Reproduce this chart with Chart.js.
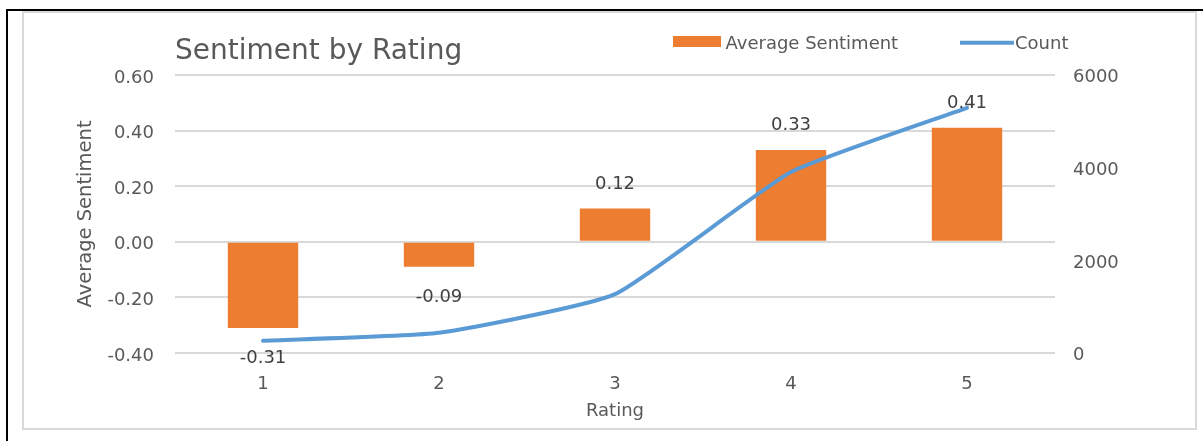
<!DOCTYPE html>
<html><head><meta charset="utf-8">
<script src="https://cdn.jsdelivr.net/npm/chart.js@4.4.1/dist/chart.umd.min.js"></script>
<style>html,body{margin:0;padding:0;background:#fff;overflow:hidden}#wrap{position:relative;width:1203px;height:441px}canvas{display:block}</style>
</head><body><div id="wrap"><canvas id="c" width="1203" height="441"></canvas></div>
<script>
// ---- data ----
const categories = ['1', '2', '3', '4', '5'];
const avgSentiment = [-0.31, -0.09, 0.12, 0.33, 0.41];
const counts = [265, 435, 1270, 3905, 5290];
const leftTicks = [-0.4, -0.2, 0, 0.2, 0.4, 0.6];
const rightTicks = [0, 2000, 4000, 6000];
const chartTitle = 'Sentiment by Rating';
const xTitle = 'Rating';
const yTitle = 'Average Sentiment';

// ---- style ----
const ORANGE = '#ED7D31';
const BLUE = '#5B9BD5';
const TXT = '#595959';
const GRID = '#D9D9D9';
const FONT = '"DejaVu Sans", sans-serif';

Chart.defaults.font.family = FONT;
Chart.defaults.color = TXT;

const framePlugin = {
  id: 'frame',
  beforeDraw(chart) {
    const ctx = chart.ctx;
    ctx.save();
    ctx.fillStyle = '#fff';
    ctx.fillRect(0, 0, chart.width, chart.height);
    ctx.strokeStyle = GRID;
    ctx.lineWidth = 2;
    ctx.strokeRect(23, 12, 1173, 417);
    ctx.fillStyle = '#000';
    ctx.fillRect(6, 9, chart.width - 6, 2);
    ctx.fillRect(6, 9, 2, chart.height - 9);
    ctx.restore();
  }
};

const barLabelPlugin = {
  id: 'barLabels',
  afterDatasetsDraw(chart) {
    const meta = chart.getDatasetMeta(0);
    const ds = chart.data.datasets[0];
    const ctx = chart.ctx;
    ctx.save();
    ctx.font = '18px ' + FONT;
    ctx.fillStyle = '#404040';
    ctx.textAlign = 'center';
    ctx.textBaseline = 'middle';
    meta.data.forEach((el, i) => {
      const v = ds.data[i];
      const y = v >= 0 ? el.y - 24.3 : el.y + 30.5;
      ctx.fillText(v.toFixed(2), el.x, y);
    });
    ctx.restore();
  }
};

const legendPlugin = {
  id: 'customLegend',
  afterDraw(chart) {
    const ctx = chart.ctx;
    const dsBar = chart.data.datasets[0];
    const dsLine = chart.data.datasets[1];
    ctx.save();
    ctx.font = '18px ' + FONT;
    ctx.textBaseline = 'middle';
    ctx.textAlign = 'left';
    ctx.fillStyle = dsBar.backgroundColor;
    ctx.fillRect(673, 36, 48, 11);
    ctx.fillStyle = TXT;
    ctx.fillText(dsBar.label, 725.5, 44.5);
    ctx.strokeStyle = dsLine.borderColor;
    ctx.lineWidth = 4;
    ctx.beginPath();
    ctx.moveTo(960, 42.7);
    ctx.lineTo(1014, 42.7);
    ctx.stroke();
    ctx.fillStyle = TXT;
    ctx.fillText(dsLine.label, 1015, 44.5);
    ctx.restore();
  }
};

new Chart(document.getElementById('c'), {
  data: {
    labels: categories,
    datasets: [
      {
        type: 'bar',
        label: 'Average Sentiment',
        data: avgSentiment,
        backgroundColor: ORANGE,
        borderWidth: 0,
        yAxisID: 'y',
        categoryPercentage: 0.8,
        barPercentage: 0.5,
        order: 1
      },
      {
        type: 'line',
        label: 'Count',
        data: counts,
        borderColor: BLUE,
        backgroundColor: BLUE,
        borderWidth: 4,
        pointRadius: 0,
        tension: 0.15,
        borderCapStyle: 'round',
        borderJoinStyle: 'round',
        yAxisID: 'y1',
        order: 0
      }
    ]
  },
  options: {
    responsive: false,
    animation: false,
    devicePixelRatio: 1,
    layout: { padding: { top: 12, left: 0, right: 0, bottom: 0 } },
    plugins: {
      legend: { display: false },
      tooltip: { enabled: false },
      title: {
        display: true,
        text: chartTitle,
        align: 'start',
        fullSize: false,
        color: TXT,
        font: { size: 28, weight: 'normal' },
        padding: { top: 23.4, bottom: 6 }
      }
    },
    scales: {
      x: {
        grid: { display: false, drawTicks: false },
        border: { display: false },
        ticks: { padding: 21, color: TXT, font: { size: 18 } },
        title: { display: true, text: xTitle, color: TXT, font: { size: 18 }, padding: { top: 0, bottom: 18.5 } },
        afterFit: s => { s.height = 88; }
      },
      y: {
        position: 'left',
        min: leftTicks[0],
        max: leftTicks[leftTicks.length - 1],
        afterBuildTicks: s => { s.ticks = leftTicks.map(v => ({ value: v })); },
        afterFit: s => { s.width = 175; },
        grid: { color: GRID, lineWidth: 2, drawTicks: false },
        border: { display: false },
        ticks: { padding: 21, color: TXT, font: { size: 18 }, labelOffset: 3, callback: v => Number(v).toFixed(2) },
        title: { display: true, text: yTitle, color: TXT, font: { size: 19.5 }, padding: { top: 73.9, bottom: 0 } }
      },
      y1: {
        position: 'right',
        min: rightTicks[0],
        max: rightTicks[rightTicks.length - 1],
        afterBuildTicks: s => { s.ticks = rightTicks.map(v => ({ value: v })); },
        afterFit: s => { s.width = 148; },
        grid: { display: false, drawTicks: false },
        border: { display: false },
        ticks: { padding: 18, color: TXT, font: { size: 18 }, labelOffset: 2.5, callback: v => String(v) }
      }
    }
  },
  plugins: [framePlugin, barLabelPlugin, legendPlugin]
});
</script>
</body></html>
